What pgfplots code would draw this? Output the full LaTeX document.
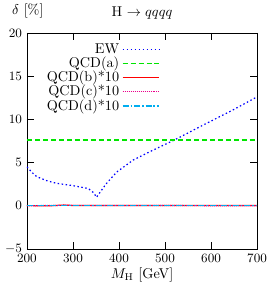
\documentclass[border=0pt]{standalone}
\usepackage{graphicx}
\usepackage{pgfplots}
\pgfplotsset{compat=1.18}
\begin{document}
\scalebox{1.42}{%
\begin{tikzpicture}
\begin{axis}[name=ax,
  scale only axis, width=162pt, height=152.1pt,
  xmin=200, xmax=700, ymin=-5, ymax=20,
  xtick={200,300,...,700}, ytick={-5,0,5,10,15,20},
  tick align=inside, major tick length=4.9pt,
  tick style={line width=0.56pt, black},
  axis line style={line width=0.56pt},
  tick label style={font=\small},
  xlabel={$M_{\mathrm{H}}$ [GeV]},
  xlabel style={yshift=3pt},
  legend plot pos=right,
  legend cell align=right,
  legend style={draw=none, fill=none, inner sep=0pt, at={(rel axis cs:0.578,0.965)}, anchor=north east, row sep=-3pt,
    nodes={fill=none}},
  legend image code/.code={\draw[line width=0.9pt,#1] (0cm,0cm) -- (0.9cm,0cm);},
  clip=true,
]
\addplot[color=blue, line width=0.85pt, dash pattern=on 1.05pt off 1.76pt] coordinates {
(200,4.5) (203,4.34) (210,3.9) (221,3.37) (243,2.9) (264,2.6) (300,2.33) (333,2.0) (345,1.5) (351,0.98)
(362,1.8) (373,2.6) (395,3.9) (431,5.3) (467,6.26) (500,7.1) (520,7.6) (576,9.15) (648,11.1) (700,12.6)};
\addlegendentry{EW}
\addplot[color=green!90!black, line width=0.85pt, dash pattern=on 3.5pt off 2.1pt] coordinates {(200,7.6) (700,7.6)};
\addlegendentry{QCD(a)}
\addplot[color=red, line width=0.85pt] coordinates {(200,0.02) (250,0.0) (280,0.08) (300,0.03) (400,0.02) (700,0.02)};
\addlegendentry{QCD(b)*10}
\addplot[color=magenta, line width=0.85pt, dash pattern=on 0.7pt off 0.7pt] coordinates {(200,0.0) (280,0.05) (700,0.0)};
\addlegendentry{QCD(c)*10}
\addplot[color=cyan, line width=0.85pt, dash pattern=on 4.2pt off 1.4pt on 1.05pt off 1.4pt] coordinates {(200,0.0) (700,0.0)};
\addlegendentry{QCD(d)*10}
\end{axis}
\pgfresetboundingbox
\path (ax.south west) ++(-19pt,-31pt) coordinate (bl);
\path (ax.north east) ++(9.15pt,23.2pt) coordinate (tr);
\path[use as bounding box] (bl) rectangle (tr);
\node[anchor=base west, inner sep=0pt] at ([xshift=-10.6pt,yshift=12.7pt]ax.north west) {$\delta$ [\%]};
\node[anchor=base, inner sep=0pt] at ([yshift=11.3pt]ax.north) {H $\rightarrow qqqq$};
\end{tikzpicture}}
\end{document}
